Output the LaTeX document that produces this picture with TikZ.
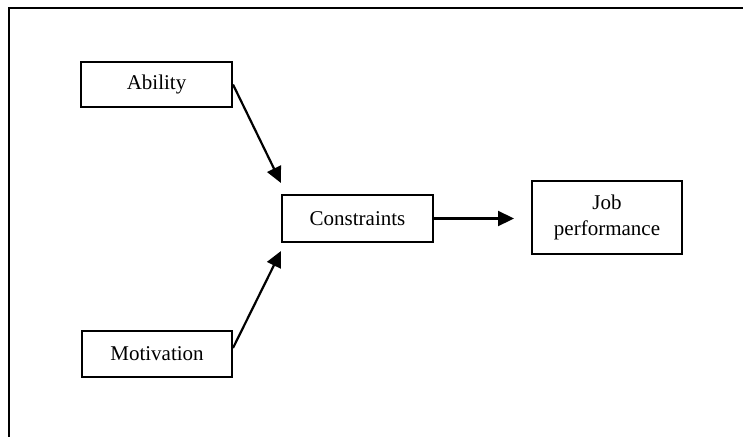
\documentclass[tikz,border=0pt]{standalone}
\usepackage{fontspec}
\setmainfont{Liberation Serif}
\usetikzlibrary{arrows.meta}
\begin{document}
\begin{tikzpicture}[x=1pt,y=-1pt,
  box/.style={draw=black,line width=2pt,fill=white,align=center,inner sep=0pt,
    font=\fontsize{21}{26}\selectfont},
  conn/.style={line width=2.2pt,-{Triangle[length=16pt,width=15pt]}},
  frame/.style={line width=2.3pt}]
\useasboundingbox (0,0) rectangle (743,436);
\coordinate (ftr) at (743,8);
\coordinate (ftl) at (9,8);
\coordinate (fbl) at (9,437);
\draw[frame] (ftr) -- (ftl) -- (fbl);
\node[box,minimum width=151pt,minimum height=45pt] (ab) at (156.5,84.5) {Ability};
\node[box,minimum width=150pt,minimum height=46pt] (mot) at (157,354) {Motivation};
\node[box,minimum width=151pt,minimum height=47pt] (cons) at (357.5,218.5) {Constraints};
\node[box,minimum width=150pt,minimum height=73pt] (job) at (607,217.5) {Job\\performance};
\draw[conn] (ab.east) -- ([yshift=11pt]cons.north west);
\draw[conn] ([yshift=6pt]mot.east) -- ([yshift=-8pt]cons.south west);
\draw[conn,shorten >=17pt] (cons.east) -- (cons.east -| job.west);
\end{tikzpicture}
\end{document}
